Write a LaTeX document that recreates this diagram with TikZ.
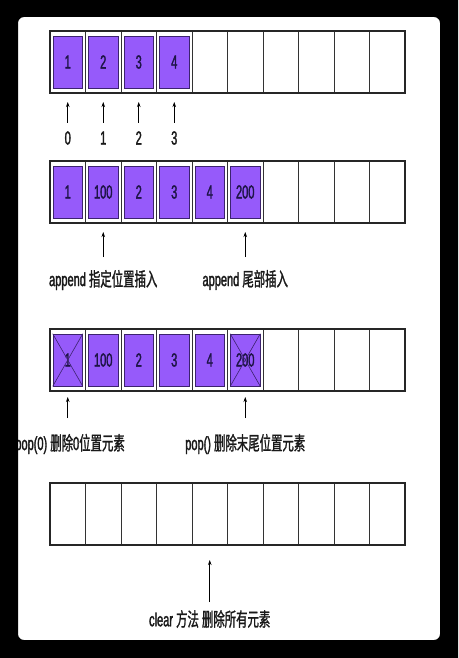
\documentclass[tikz,border=0pt]{standalone}
\usepackage{fontspec}
\setmainfont{Liberation Sans}[FakeStretch=0.58, FakeBold=1.6]
\newfontfamily\cjk{Noto Sans CJK SC}[FakeStretch=0.6, FakeBold=1.2]
\usetikzlibrary{arrows.meta,calc}
\definecolor{cellfill}{RGB}{150,90,250}
\definecolor{itemtext}{RGB}{30,20,70}
\definecolor{itemline}{RGB}{60,35,110}
\begin{document}
\begin{tikzpicture}[x=1pt,y=-1pt,
  cell/.style={draw=black!80, line width=0.8pt, minimum width=35.5pt, minimum height=62pt, inner sep=0pt, outer sep=0pt},
  item/.style={draw=itemline, fill=cellfill, line width=0.6pt, minimum width=29.5pt, minimum height=52pt, inner sep=0pt, font=\fontsize{19}{19}\selectfont, text=itemtext},
  crossln/.style={draw=itemline, line width=0.6pt},
  frame/.style={draw=black!85, line width=1.2pt},
  arr/.style={-{Stealth[length=5pt,width=3.5pt]}, line width=0.7pt},
  lbl/.style={font=\fontsize{19}{20}\selectfont, inner sep=0pt, text=black!90}]
\useasboundingbox (0,0) rectangle (458,658);
\fill[white] (0,0) rectangle (458,658);
% cells
\foreach \rw/\yy in {a/62, b/192, c/360, d/514}{
  \foreach \i in {1,...,10}{
    \node[cell] (\rw\i) at ({50+35.5*(\i-0.5)}, \yy) {};
  }
  \draw[frame] (\rw1.north west) rectangle (\rw10.south east);
}
% items
\foreach \v [count=\i] in {1,2,3,4} \node[item] (ia\i) at (a\i) {\v};
\foreach \v [count=\i] in {1,100,2,3,4,200} \node[item] (ib\i) at (b\i) {\v};
\foreach \v [count=\i] in {1,100,2,3,4,200} \node[item] (ic\i) at (c\i) {\v};
\foreach \i in {1,6}{
  \draw[crossln] (ic\i.north west) -- (ic\i.south east) (ic\i.north east) -- (ic\i.south west);
}
% row a arrows and labels
\foreach \i in {1,...,4}{
  \coordinate (ta\i) at ($(a\i.south)+(0,30)$);
  \draw[arr] (ta\i) -- ($(a\i.south)+(0,9)$);
}
\node[lbl] (la1) at ($(a1.south)+(0,45)$) {0};
\node[lbl] (la2) at ($(a2.south)+(0,45)$) {1};
\node[lbl] (la3) at ($(a3.south)+(0,45)$) {2};
\node[lbl] (la4) at ($(a4.south)+(0,45)$) {3};
% row b
\foreach \i in {2,6}{
  \coordinate (tb\i) at ($(b\i.south)+(0,34)$);
  \draw[arr] (tb\i) -- ($(b\i.south)+(0,9)$);
}
\node[lbl] (lb2) at ($(b2.south)+(0,57)$) {append {\cjk 指定位置插入}};
\node[lbl] (lb6) at ($(b6.south)+(0,57)$) {append {\cjk 尾部插入}};
% row c
\foreach \i in {1,6}{
  \coordinate (tc\i) at ($(c\i.south)+(0,27)$);
  \draw[arr] (tc\i) -- ($(c\i.south)+(0,6)$);
}
\node[lbl, anchor=east] (lc1) at (125,444) {pop(0) {\cjk 删除}0{\cjk 位置元素}};
\node[lbl] (lc6) at ($(c6.south)+(0,53)$) {pop() {\cjk 删除末尾位置元素}};
% row d
\coordinate (td5) at ($(d5.south)+(0,57)$);
\draw[arr] (td5) -- ($(d5.south)+(0,15)$);
\node[lbl] (ld5) at ($(d5.south)+(0,74)$) {clear {\cjk 方法} {\cjk 删除所有元素}};
% outer black frame
\fill[black, even odd rule] (0,0) rectangle (458,658) [rounded corners=6pt] (18,17) rectangle (440,640);
\end{tikzpicture}
\end{document}
